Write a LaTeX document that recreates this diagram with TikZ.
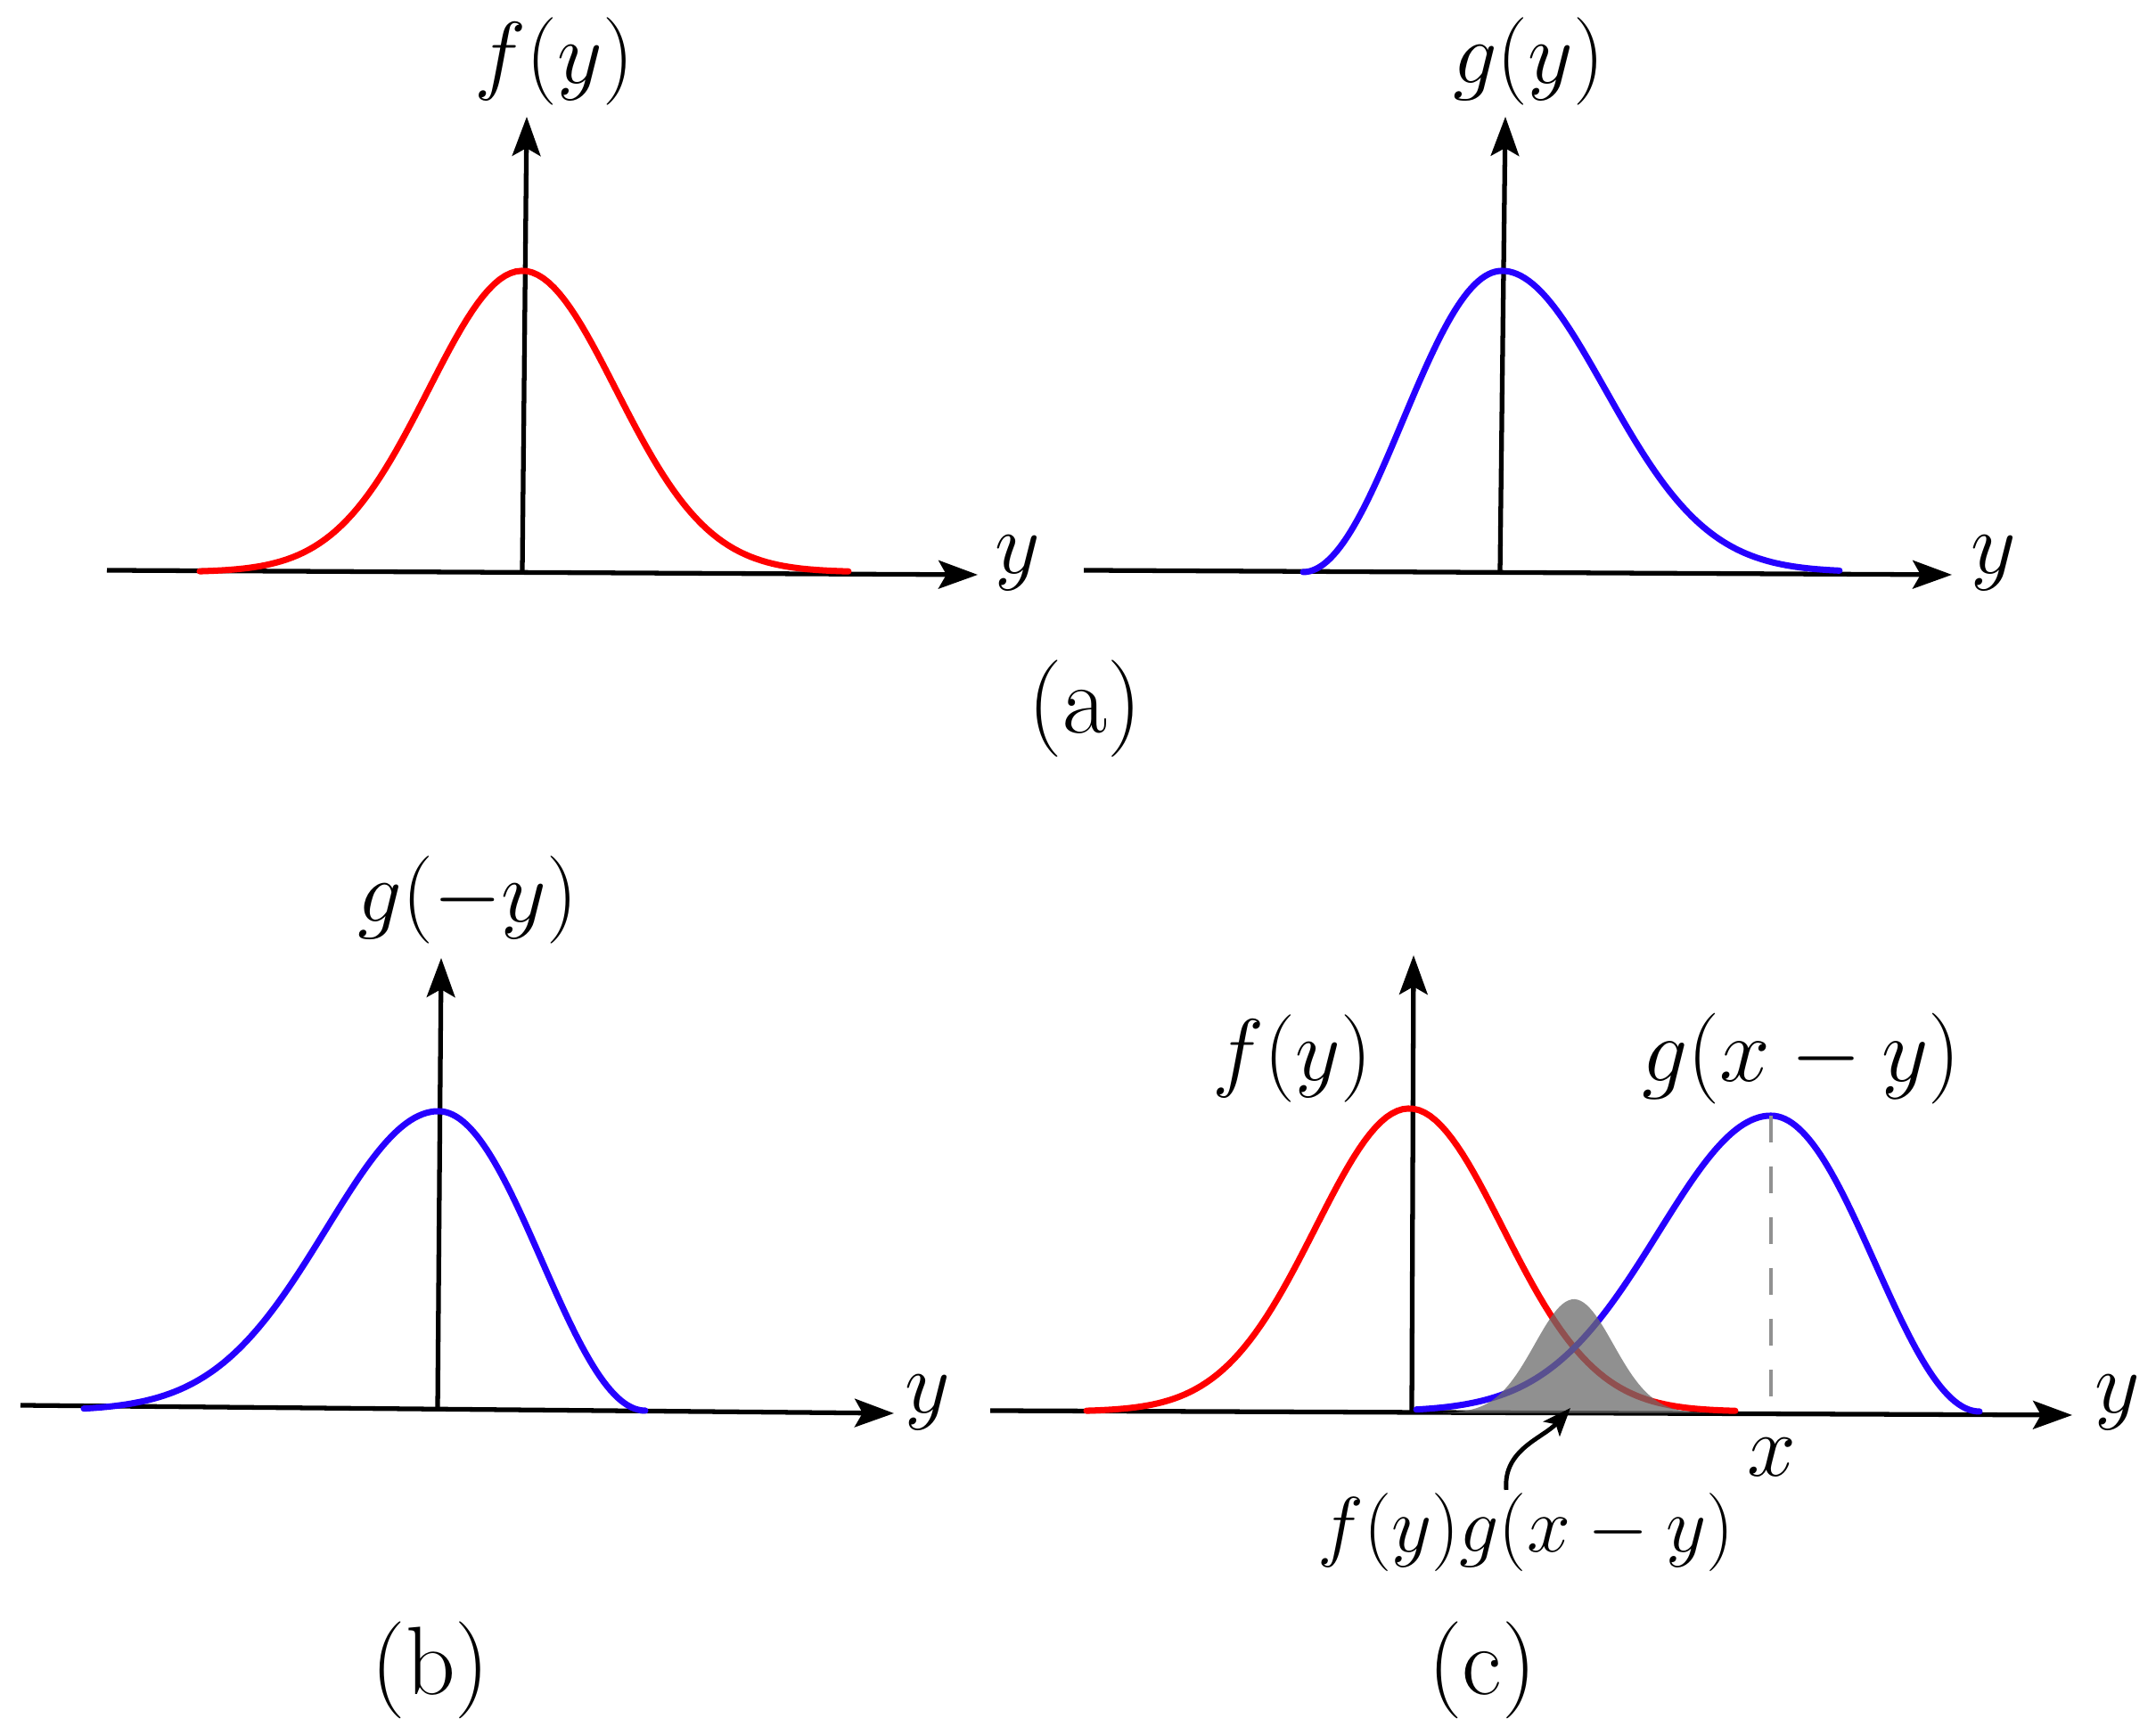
\documentclass[tikz,border=0pt]{standalone}
\usepackage{fix-cm}
\usepackage{amsmath}
\usepackage{xcolor}
\usepackage{tikz}
\usetikzlibrary{arrows.meta,calc}
\definecolor{curvered}{RGB}{255, 0, 0}
\definecolor{curveblue}{RGB}{38, 0, 255}

\tikzset{
    axis/.style={line width=1.5pt, black},
    fcurve/.style={line width=2pt, curvered, line cap=round},
    gcurve/.style={line width=2pt, curveblue, line cap=round},
    prodfill/.style={fill=black!58, opacity=0.75},
    guide/.style={line width=1.4pt, black!43, dash pattern=on 0.3cm off 0.27cm},
    lbl/.style={font=\fontsize{28}{34}\selectfont, inner sep=1pt},
    caption/.style={font=\fontsize{31}{37}\selectfont, inner sep=1pt}
}

\begin{document}
\begin{tikzpicture}[>={Stealth[length=12.5pt,width=9pt,inset=2.5pt]}]
    \useasboundingbox (0,0) rectangle (24.19,19.38);

    % Panel (a), left: f(y)
    \begin{scope}[shift={(5.86,12.96)}]
        \coordinate (FaL) at (-4.66, 0.02);
        \coordinate (FaR) at (5.11, -0.03);
        \coordinate (FaB) at (0, 0);
        \coordinate (FaT) at (0.05, 5.11);

        \draw[axis, ->] (FaL) -- (FaR);
        \draw[axis, ->] (FaB) -- (FaT);

        % Gaussian
        \draw[fcurve] plot[domain=-3.62:3.66, samples=120] (\x, {3.38*exp(-(\x)^2/(2*1.05^2))});

        \node[lbl] (fa) at (0.36, 5.73) {$f(y)$};
        \node[lbl] (ya1) at (5.56, 0.10) {$y$};
    \end{scope}

    % Panel (a), right: g(y)
    \begin{scope}[shift={(16.85,12.96)}]
        \coordinate (GaL) at (-4.69, 0.02);
        \coordinate (GaR) at (5.05, -0.03);
        \coordinate (GaB) at (-0.02, 0);
        \coordinate (GaT) at (0.04, 5.11);

        \draw[axis, ->] (GaL) -- (GaR);
        \draw[axis, ->] (GaB) -- (GaT);

        % Skewed bump: short rise, long tail
        \draw[gcurve] plot[domain=-2.23:0, samples=60] (\x, {3.38*(1+cos(180*\x/2.23))/2})
            -- plot[domain=0:3.79, samples=90] (\x, {3.38*exp(-(\x)^2/(2*1.16^2))});

        \node[lbl] (ga) at (0.30, 5.73) {$g(y)$};
        \node[lbl] (ya2) at (5.52, 0.10) {$y$};
    \end{scope}

    \node[caption] (capa) at (12.17, 11.43) {(a)};

    % Panel (b): g(-y)
    \begin{scope}[shift={(4.92,3.55)}]
        \coordinate (GbL) at (-4.69, 0.06);
        \coordinate (GbR) at (5.11, -0.03);
        \coordinate (GbB) at (-0.01, 0);
        \coordinate (GbT) at (0.03, 5.08);

        \draw[axis, ->] (GbL) -- (GbR);
        \draw[axis, ->] (GbB) -- (GbT);

        % Mirrored bump
        \draw[gcurve] plot[domain=-3.98:0, samples=90] (\x, {3.36*exp(-(\x)^2/(2*1.26^2))})
            -- plot[domain=0:2.32, samples=60] (\x, {3.36*(1+cos(180*\x/2.32))/2});

        \node[lbl] (gb) at (0.33, 5.73) {$g(-y)$};
        \node[lbl] (yb) at (5.49, 0.09) {$y$};
        \node[caption] (capb) at (-0.09, -2.91) {(b)};
    \end{scope}

    % Panel (c): f(y) and g(x-y)
    \begin{scope}[shift={(15.83,3.54)}]
        \coordinate (CL) at (-4.72, 0.01);
        \coordinate (CR) at (7.42, -0.04);
        \coordinate (CB) at (0.01, 0);
        \coordinate (CT) at (0.03, 5.12);

        \draw[axis, ->] (CL) -- (CR);
        \draw[axis, ->] (CB) -- (CT);

        % f(y)
        \draw[fcurve] plot[domain=-3.62:3.66, samples=120] ({\x-0.02}, {3.40*exp(-(\x)^2/(2*1.05^2))});

        % g(x-y), peak at x
        \draw[gcurve] plot[domain=-3.98:0, samples=90] ({4.04+\x}, {3.32*exp(-(\x)^2/(2*1.26^2))})
            -- plot[domain=0:2.34, samples=60] ({4.04+\x}, {3.32*(1+cos(180*\x/2.34))/2});

        % Product f(y)g(x-y)
        \fill[prodfill] plot[domain=-1.53:1.51, samples=90] ({1.83+\x}, {-0.02+1.28*exp(-(\x)^2/(2*0.44^2))}) -- cycle;

        % Marker at x
        \coordinate (Xtop) at (4.04, 3.32);
        \coordinate (Xbot) at (4.04, 0.12);
        \draw[guide] (Xtop) -- (Xbot);

        \node[lbl] (xc) at (4.05, -0.51) {$x$};
        \node[lbl] (fc) at (-1.33, 3.96) {$f(y)$};
        \node[lbl, font=\fontsize{29}{35}\selectfont] (gc) at (4.38, 3.96) {$g(x-y)$};
        \node[lbl] (yc) at (7.93, 0.10) {$y$};

        % Product label and pointer
        \node[lbl, font=\fontsize{25}{30}\selectfont] (prod) at (1.29, -1.36) {$f(y)g(x-y)$};
        \coordinate (ProdTip) at (1.79, 0.04);
        \draw[line width=1.4pt, -{Stealth[length=9pt,width=7pt,inset=2pt]}]
            ([xshift=-2.2mm]prod.north) to[out=95, in=228] (ProdTip);

        \node[caption] (capc) at (0.80, -2.90) {(c)};
    \end{scope}
\end{tikzpicture}
\end{document}
